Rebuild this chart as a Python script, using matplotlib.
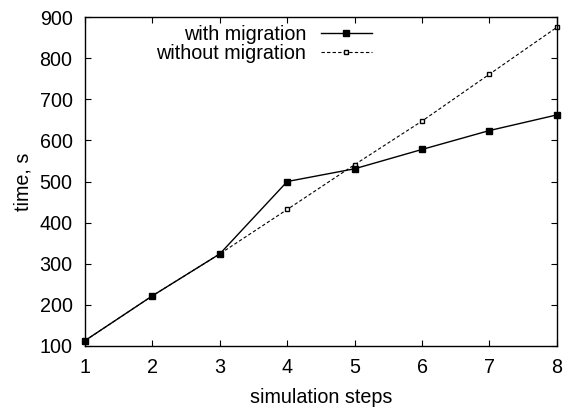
import matplotlib
matplotlib.use("Agg")
import matplotlib.pyplot as plt

plt.rcParams['font.family'] = ['Liberation Sans', 'DejaVu Sans']

steps = [1, 2, 3, 4, 5, 6, 7, 8]
with_migration = [113, 222, 324, 500, 531, 578, 624, 662]
without_migration = [113, 222, 324, 432, 541, 647, 761, 875]

fig = plt.figure(figsize=(5.67, 4.07), dpi=100)
ax = fig.add_axes([0.150, 0.150, 0.832, 0.808])

fs = 14.2
ax.plot(steps, with_migration, color='black', lw=1.0, marker='s', ms=4.6,
        mfc='black', mec='black', label='with migration', clip_on=False, zorder=3)
ax.plot(steps, without_migration, color='black', lw=0.8, ls=(0, (3, 2)), marker='s',
        ms=3.4, mfc='white', mec='black', mew=1.0, label='without migration',
        clip_on=False, zorder=2)

ax.set_xlim(1, 8)
ax.set_ylim(100, 900)
ax.set_xticks(steps)
ax.set_yticks(range(100, 901, 100))
ax.tick_params(direction='in', top=True, right=True, length=4.5, width=0.8,
               labelsize=fs)
ax.tick_params(axis='y', pad=9)
ax.tick_params(axis='x', pad=9)
for s in ax.spines.values():
    s.set_linewidth(1.0)

ax.set_xlabel('simulation steps', fontsize=fs, labelpad=7.5)
ax.set_ylabel('time, s', fontsize=fs, labelpad=5)

ax.legend(loc='upper right', bbox_to_anchor=(0.642, 1.025), frameon=False,
          markerfirst=False, fontsize=fs, handlelength=2.6, handletextpad=0.75,
          labelspacing=0.02, borderpad=0.3)

fig.savefig('out.png', dpi=100)
